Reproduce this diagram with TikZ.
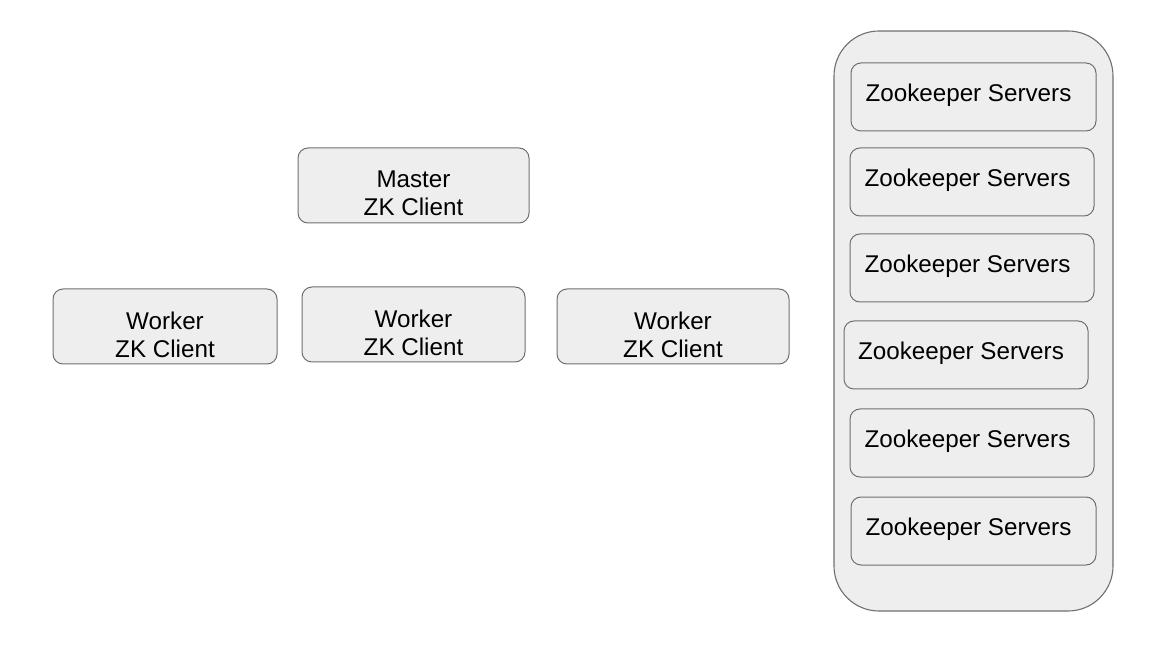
\documentclass[tikz,border=0pt]{standalone}
\usepackage{fontspec}
\setmainfont{Liberation Sans}
\definecolor{boxfill}{HTML}{EEEEEE}
\definecolor{boxline}{HTML}{707070}
\begin{document}
\begin{tikzpicture}[x=1pt,y=-1pt,
  box/.style={draw=boxline,fill=boxfill,line width=1pt,rounded corners=10pt,inner sep=0pt},
  outer/.style={draw=boxline,fill=boxfill,line width=1.1pt,rounded corners=45pt,inner sep=0pt},
  txt/.style={font=\fontsize{24.2}{28}\selectfont,align=center,inner sep=0pt,text=black}]
\useasboundingbox (0,0) rectangle (1152,660);
% outer container
\node[outer,minimum width=279pt,minimum height=580pt] (zk) at (973.5,321) {};
% servers
\node[box,minimum width=245pt,minimum height=68pt] (s1) at (973.5,97) {};
\node[box,minimum width=244pt,minimum height=68pt] (s2) at (972,182) {};
\node[box,minimum width=244pt,minimum height=68pt] (s3) at (972,268) {};
\node[box,minimum width=244pt,minimum height=68pt] (s4) at (966,355) {};
\node[box,minimum width=244pt,minimum height=68pt] (s5) at (972,443) {};
\node[box,minimum width=245pt,minimum height=68pt] (s6) at (973.5,531) {};
\node[txt] (t1) at (968.5,95) {Zookeeper Servers};
\node[txt] (t2) at (967.5,180) {Zookeeper Servers};
\node[txt] (t3) at (967.5,266) {Zookeeper Servers};
\node[txt] (t4) at (961,353) {Zookeeper Servers};
\node[txt] (t5) at (967.5,441) {Zookeeper Servers};
\node[txt] (t6) at (968.5,529) {Zookeeper Servers};
% master
\node[box,minimum width=231pt,minimum height=75pt] (m) at (413.5,185.5) {};
\node[txt] (mt) at (413.5,193.5) {Master\\ZK Client};
% workers
\node[box,minimum width=224pt,minimum height=75pt] (w1) at (165,326.5) {};
\node[txt] (w1t) at (165,334.5) {Worker\\ZK Client};
\node[box,minimum width=223pt,minimum height=75pt] (w2) at (413.5,324.5) {};
\node[txt] (w2t) at (413.5,332.5) {Worker\\ZK Client};
\node[box,minimum width=232pt,minimum height=75pt] (w3) at (673,326.5) {};
\node[txt] (w3t) at (673,334.5) {Worker\\ZK Client};
\end{tikzpicture}
\end{document}
